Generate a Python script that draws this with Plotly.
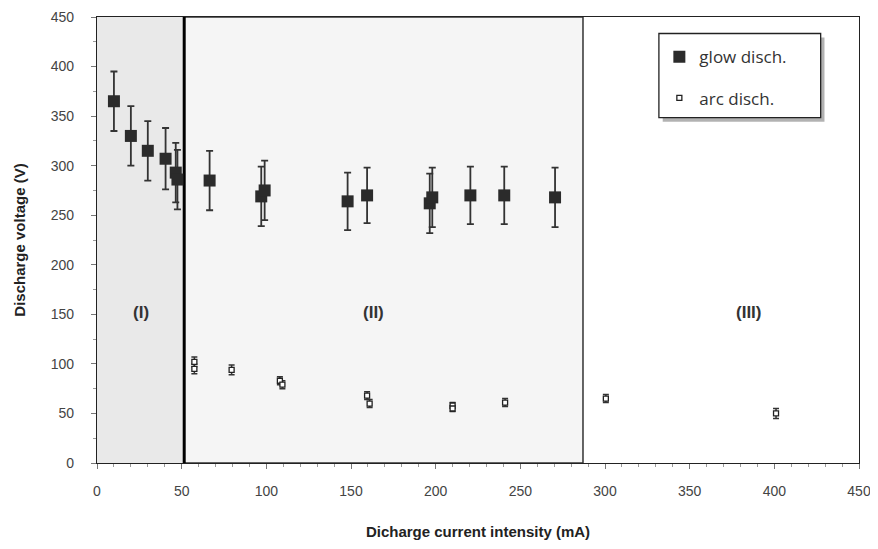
import plotly.graph_objects as go

# Glow discharge data
glow_x = [10, 20, 30, 40.5, 46.5, 47.5, 66.5, 97, 99, 148, 159.5, 196.5, 198, 220.5, 240.5, 270.5]
glow_y = [365, 330, 315, 307, 293, 286, 285, 269, 275, 264, 270, 262, 268, 270, 270, 268]
glow_err = [30, 30, 30, 31, 30, 30, 30, 30, 30, 29, 28, 30, 30, 29, 29, 30]

# Arc discharge data
arc_x = [57.5, 57.5, 79.5, 108, 109.5, 159.5, 161, 210, 210, 241, 300.5, 401]
arc_y = [102, 95, 94, 83, 79, 68, 60, 58, 55, 61, 65, 50]
arc_err = [5, 5, 5, 4, 4, 4, 4, 3, 3, 4, 4, 5]

# Regions
region_bounds = [0, 51.5, 287, 450]
region_labels = ["(I)", "(II)", "(III)"]
region_label_x = [26, 163, 385]
region_label_y = 152

x_title = "Dicharge current intensity (mA)"
y_title = "Discharge voltage (V)"

fig = go.Figure()

fig.add_trace(go.Scatter(
    x=glow_x, y=glow_y, mode="markers", name="glow disch.",
    legendgroup="g",
    marker=dict(symbol="square", size=12, color="#2b2b2b"),
    error_y=dict(type="data", array=glow_err, color="#333333", thickness=1.8, width=3.5),
))
fig.add_trace(go.Scatter(
    x=arc_x, y=arc_y, mode="markers", name="arc disch.",
    legendgroup="a",
    marker=dict(symbol="square", size=5, color="white", line=dict(color="#222222", width=1.3)),
    error_y=dict(type="data", array=arc_err, color="#333333", thickness=1.5, width=3),
))

shapes = [
    dict(type="rect", xref="x", yref="y", x0=region_bounds[0], x1=region_bounds[1], y0=0, y1=450,
         fillcolor="#e9e9e9", line=dict(width=0), layer="below"),
    dict(type="rect", xref="x", yref="y", x0=region_bounds[1], x1=region_bounds[2], y0=0, y1=450,
         fillcolor="#f5f5f5", line=dict(color="#333333", width=1.5), layer="below"),
    dict(type="line", xref="x", yref="y", x0=region_bounds[1], x1=region_bounds[1], y0=0, y1=450,
         line=dict(color="black", width=3), layer="below"),
    # legend shadow and box
    dict(type="rect", xref="paper", yref="paper", x0=0.7424, x1=0.9547, y0=0.7652, y1=0.954,
         fillcolor="rgba(0,0,0,0.3)", line=dict(width=0), layer="above"),
    dict(type="rect", xref="paper", yref="paper", x0=0.7374, x1=0.9497, y0=0.7742, y1=0.963,
         fillcolor="white", line=dict(color="#222222", width=1.3), layer="above"),
]

annotations = [
    dict(x=lx, y=region_label_y, xref="x", yref="y", text=f"<b>{t}</b>", showarrow=False,
         font=dict(family="Liberation Sans, Arial", size=17, color="#333333"))
    for t, lx in zip(region_labels, region_label_x)
]

fig.update_layout(
    width=870, height=541,
    margin=dict(l=89, r=19, t=9, b=86),
    paper_bgcolor="white", plot_bgcolor="rgba(0,0,0,0)",
    shapes=shapes, annotations=annotations,
    showlegend=True,
    legend=dict(x=0.738, y=0.95, xanchor="left", yanchor="top",
                bgcolor="rgba(0,0,0,0)", borderwidth=0,
                font=dict(family="Open Sans", size=17, color="#333333"),
                traceorder="grouped", tracegroupgap=16),
    font=dict(family="Liberation Sans, Arial", color="#333333"),
)

fig.update_xaxes(
    range=[0, 450], tickmode="linear", tick0=0, dtick=50, automargin=False,
    ticks="outside", ticklen=5, tickcolor="#777777", tickwidth=1,
    minor=dict(ticks="outside", ticklen=3, dtick=10, tickcolor="#999999"),
    showgrid=False, zeroline=False, ticklabeloverflow="allow",
    showline=True, linecolor="#222222", linewidth=1.2, mirror=True,
    tickfont=dict(size=14, color="#444444"), ticklabelstandoff=10,
    title=dict(text=f"<b>{x_title}</b>", font=dict(size=15, color="#222222"), standoff=28),
)
fig.update_yaxes(
    range=[0, 450], tickmode="linear", tick0=0, dtick=50, automargin=False,
    ticks="outside", ticklen=5, tickcolor="#777777", tickwidth=1,
    minor=dict(ticks="outside", ticklen=3, dtick=25, tickcolor="#999999"),
    showgrid=False, zeroline=False, ticklabeloverflow="allow",
    showline=True, linecolor="#222222", linewidth=1.2, mirror=True,
    tickfont=dict(size=14, color="#444444"), ticklabelstandoff=14,
    title=dict(text=f"<b>{y_title}</b>", font=dict(size=15, color="#222222"), standoff=21),
)

fig.write_html("out.html")
